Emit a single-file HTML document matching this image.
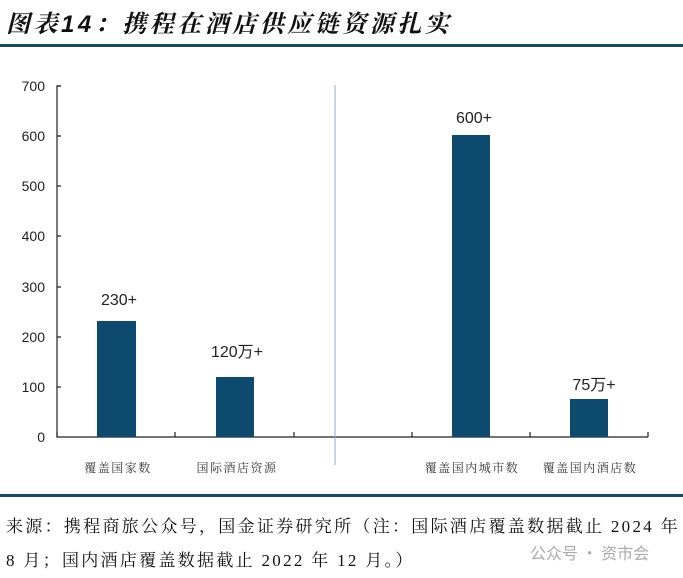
<!DOCTYPE html>
<html><head><meta charset="utf-8"><style>
body{margin:0;width:683px;height:578px;background:#fff;overflow:hidden;position:relative;font-family:"Liberation Sans","Noto Sans CJK SC",sans-serif}
.t{position:absolute;left:6px;top:4px;font-size:24px;font-style:italic;font-weight:bold;color:#111;font-family:"Liberation Sans","Noto Serif CJK SC",sans-serif;letter-spacing:3.5px}
.hr{position:absolute;left:0;width:683px;height:3px;background:#1a4a60}
.s{position:absolute;left:6px;font-size:17px;color:#111;font-family:"Liberation Serif","Noto Serif CJK SC",serif;letter-spacing:2.3px;white-space:nowrap}
</style></head><body>
<div class="t">图表14：携程在酒店供应链资源扎实</div>
<div class="hr" style="top:44px"></div>
<svg style="position:absolute;left:0;top:0" width="683" height="578">
<g font-family="Liberation Sans,sans-serif" font-size="14" fill="#222" text-anchor="end">
<text x="45" y="91">700</text><text x="45" y="141">600</text><text x="45" y="191">500</text><text x="45" y="241">400</text><text x="45" y="292">300</text><text x="45" y="342">200</text><text x="45" y="392">100</text><text x="45" y="442">0</text>
</g>
<path d="M61 86H57V437H648" stroke="#222" stroke-width="1.2" fill="none"/>
<g stroke="#222" stroke-width="1.2"><path d="M57 432V437M175 432V437M294 432V437M412 432V437M530 432V437M648 432V437"/>
<path d="M57 86H61M57 136H61M57 186H61M57 236H61M57 287H61M57 337H61M57 387H61"/></g>
<line x1="335" y1="85" x2="335" y2="465" stroke="#8fa8d8" stroke-width="1"/>
<g fill="#0d4a6e">
<rect x="97" y="321" width="39" height="116"/>
<rect x="216" y="377" width="38" height="60"/>
<rect x="452" y="135" width="38" height="302"/>
<rect x="570" y="399" width="38" height="38"/>
</g>
<g font-size="16" fill="#222" text-anchor="middle" font-family="Liberation Sans,Noto Sans CJK SC,sans-serif">
<text x="119" y="305">230+</text><text x="237" y="357">120万+</text><text x="474" y="123">600+</text><text x="594" y="390">75万+</text>
</g>
<g font-size="12" fill="#333" text-anchor="middle" font-family="Noto Serif CJK SC,serif" letter-spacing="1.5">
<text x="118" y="472">覆盖国家数</text><text x="237" y="472">国际酒店资源</text><text x="472" y="472">覆盖国内城市数</text><text x="590" y="472">覆盖国内酒店数</text>
</g>
</svg>
<div class="hr" style="top:494px"></div>
<div class="s" style="top:512px">来源：携程商旅公众号，国金证券研究所（注：国际酒店覆盖数据截止 2024 年</div>
<div class="s" style="top:546px">8 月；国内酒店覆盖数据截止 2022 年 12 月。）</div>
<div style="position:absolute;left:530px;top:540px;font-size:16px;color:#aaa;font-family:'Noto Sans CJK SC',sans-serif">公众号 · 资市会</div>
</body></html>
